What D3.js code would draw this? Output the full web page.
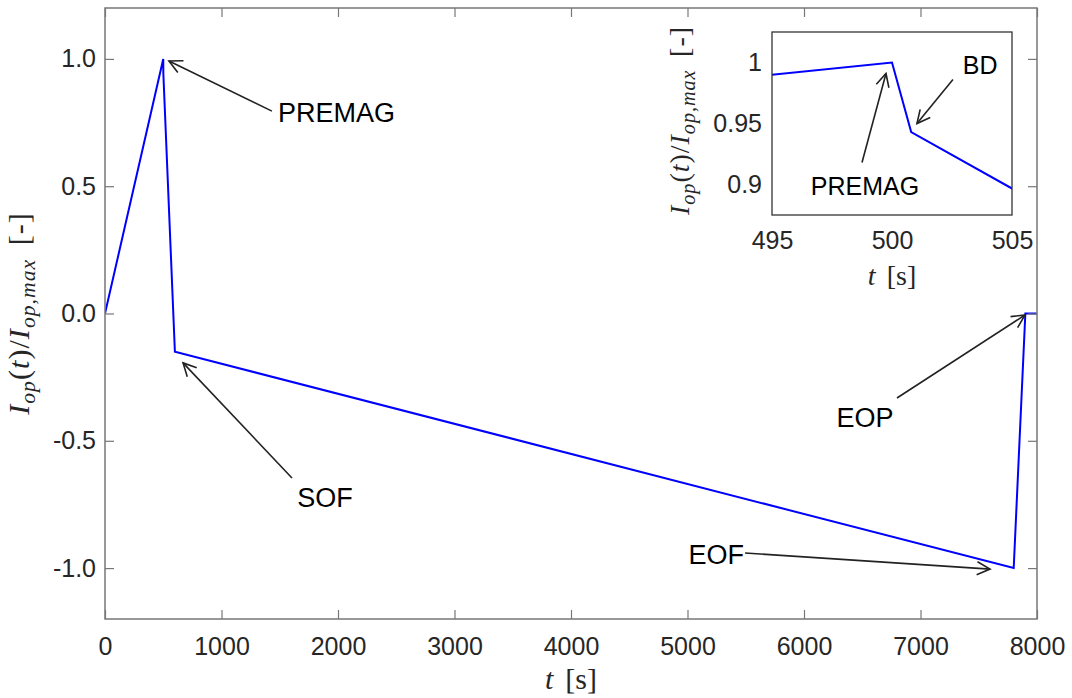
<!DOCTYPE html>
<html>
<head>
<meta charset="utf-8">
<script src="https://cdn.jsdelivr.net/npm/d3@7"></script>
<style>
  body { margin: 0; background: #fff; }
  svg { display: block; }
</style>
</head>
<body>
<div id="chart"></div>
<script>
// operating current profile, normalised
const timeValues = [0, 500, 500.8, 600, 7800, 7900, 8000];
const currentValues = [0, 1.0, 0.943, -0.15, -1.0, 0.0, 0.0];

const xTicks = [0, 1000, 2000, 3000, 4000, 5000, 6000, 7000, 8000];
const yTicks = [-1.0, -0.5, 0.0, 0.5, 1.0];
const insetXTicks = [495, 500, 505];
const insetYTicks = [0.9, 0.95, 1];

// annotations in data units: text position, arrow tail, arrow tip
const mainNotes = [
  {label: "PREMAG", text: [1485, 0.79], anchor: "start", tail: [1433, 0.795], tip: [549, 0.992]},
  {label: "SOF", text: [1888, -0.72], anchor: "middle", tail: [1605, -0.646], tip: [670, -0.194]},
  {label: "EOF", text: [5485, -0.945], anchor: "end", tail: [5494, -0.941], tip: [7597, -1.004]},
  {label: "EOP", text: [6524, -0.407], anchor: "middle", tail: [6798, -0.332], tip: [7897, -0.006]}
];
const insetNotes = [
  {label: "PREMAG", text: [498.875, 0.899], anchor: "middle", tail: [498.75, 0.918], tip: [499.75, 0.991]},
  {label: "BD", text: [503.67, 0.998], anchor: "middle", tail: [502.54, 0.986], tip: [501.04, 0.950]}
];

const W = 1072, H = 698;
const margin = {top: 8, right: 35, bottom: 79, left: 105};
const width = W - margin.left - margin.right,
      height = H - margin.top - margin.bottom;

const svg = d3.select("#chart").append("svg")
    .attr("width", W).attr("height", H);

svg.append("rect").attr("width", W).attr("height", H).attr("fill", "#fff");

// Arrow head (open chevron)
svg.append("defs").append("marker")
    .attr("id", "arrow")
    .attr("viewBox", "-14 -8 16 16")
    .attr("refX", 0).attr("refY", 0)
    .attr("markerWidth", 16).attr("markerHeight", 16)
    .attr("markerUnits", "userSpaceOnUse")
    .attr("orient", "auto")
    .append("path")
    .attr("d", "M-13,-6.5L0,0L-13,6.5")
    .attr("fill", "none")
    .attr("stroke", "#222")
    .attr("stroke-width", 1.6);

const tickFont = "'Liberation Sans', Arial, sans-serif";
const mathFont = "'Liberation Serif', 'Times New Roman', serif";
const pairs = timeValues.map((t, i) => ({t: t, v: currentValues[i]}));

function drawAxes(g, x, y, w, h, opts) {
  const ax = g.append("g");
  ax.append("g")
    .attr("transform", `translate(0,${h})`)
    .call(d3.axisBottom(x).tickValues(opts.xTicks).tickFormat(opts.xFormat)
      .tickSizeInner(-opts.tick).tickSizeOuter(0).tickPadding(opts.xPad));
  ax.append("g")
    .call(d3.axisLeft(y).tickValues(opts.yTicks).tickFormat(opts.yFormat)
      .tickSizeInner(-opts.tick).tickSizeOuter(0).tickPadding(opts.yPad));
  if (opts.tick > 0) {
    ax.append("g")
      .call(d3.axisTop(x).tickValues(opts.xTicks).tickFormat("")
        .tickSizeInner(-opts.tick).tickSizeOuter(0));
    ax.append("g")
      .attr("transform", `translate(${w},0)`)
      .call(d3.axisRight(y).tickValues(opts.yTicks).tickFormat("")
        .tickSizeInner(-opts.tick).tickSizeOuter(0));
  }
  ax.selectAll(".domain").remove();
  ax.selectAll(".tick line").attr("stroke", opts.stroke).attr("stroke-width", 1.2);
  ax.selectAll(".tick text")
    .attr("font-family", tickFont)
    .attr("font-size", opts.fontSize)
    .attr("fill", "#262626");
  g.append("rect")
    .attr("width", w).attr("height", h)
    .attr("fill", "none")
    .attr("stroke", opts.stroke)
    .attr("stroke-width", opts.boxWidth);
}

function yLabel(g, cx, cy, size) {
  const t = g.append("text")
    .attr("transform", `translate(${cx},${cy}) rotate(-90)`)
    .attr("text-anchor", "middle")
    .attr("font-family", mathFont)
    .attr("font-size", size)
    .attr("letter-spacing", size * 0.035)
    .attr("fill", "#262626");
  const sub = size * 0.72, shift = size * 0.2;
  t.append("tspan").attr("font-style", "italic").text("I");
  t.append("tspan").attr("font-style", "italic").attr("font-size", sub).attr("dy", shift).text("op");
  t.append("tspan").attr("dy", -shift).text("(");
  t.append("tspan").attr("font-style", "italic").text("t");
  t.append("tspan").text(")/");
  t.append("tspan").attr("font-style", "italic").text("I");
  t.append("tspan").attr("font-style", "italic").attr("font-size", sub).attr("dy", shift).text("op,max");
  t.append("tspan").attr("dy", -shift).attr("dx", size * 0.45).text("[-]");
}

function xLabel(g, cx, cy, size) {
  const t = g.append("text")
    .attr("x", cx).attr("y", cy)
    .attr("text-anchor", "middle")
    .attr("font-family", mathFont)
    .attr("font-size", size)
    .attr("fill", "#262626");
  t.append("tspan").attr("font-style", "italic").text("t");
  t.append("tspan").attr("dx", size * 0.4).text("[s]");
}

function drawNotes(g, x, y, notes, size) {
  notes.forEach(n => {
    g.append("line")
      .attr("x1", x(n.tail[0])).attr("y1", y(n.tail[1]))
      .attr("x2", x(n.tip[0])).attr("y2", y(n.tip[1]))
      .attr("stroke", "#222").attr("stroke-width", 1.6)
      .attr("marker-end", "url(#arrow)");
    g.append("text")
      .attr("x", x(n.text[0])).attr("y", y(n.text[1]))
      .attr("dy", "0.36em")
      .attr("text-anchor", n.anchor)
      .attr("font-family", tickFont)
      .attr("font-size", size)
      .attr("fill", "#000")
      .text(n.label);
  });
}

// ---- main axes ----
const main = svg.append("g").attr("transform", `translate(${margin.left},${margin.top})`);
const x = d3.scaleLinear().domain([0, 8000]).range([0, width]);
const y = d3.scaleLinear().domain([-1.2, 1.2]).range([height, 0]);

main.append("clipPath").attr("id", "clipMain")
  .append("rect").attr("width", width).attr("height", height);

const line = d3.line().x(d => x(d.t)).y(d => y(d.v));
main.append("path")
  .datum(pairs)
  .attr("clip-path", "url(#clipMain)")
  .attr("d", line)
  .attr("fill", "none")
  .attr("stroke", "#0000ff")
  .attr("stroke-width", 2);

drawAxes(main, x, y, width, height, {
  xTicks: xTicks, yTicks: yTicks,
  xFormat: d => String(d), yFormat: d => d.toFixed(1),
  tick: 9, xPad: 18, yPad: 9, fontSize: 25,
  stroke: "#777", boxWidth: 1.5
});
xLabel(main, width / 2, height + 70, 30);
yLabel(main, -76, height / 2, 30);
drawNotes(main, x, y, mainNotes, 27);

// ---- inset axes ----
const inset = {left: 772, top: 32, width: 240, height: 183};
const ig = svg.append("g").attr("transform", `translate(${inset.left},${inset.top})`);
const xi = d3.scaleLinear().domain([495, 505]).range([0, inset.width]);
const yi = d3.scaleLinear().domain([0.875, 1.025]).range([inset.height, 0]);

ig.append("rect").attr("width", inset.width).attr("height", inset.height).attr("fill", "#fff");
ig.append("clipPath").attr("id", "clipInset")
  .append("rect").attr("width", inset.width).attr("height", inset.height);

const insetLine = d3.line().x(d => xi(d.t)).y(d => yi(d.v));
ig.append("path")
  .datum(pairs)
  .attr("clip-path", "url(#clipInset)")
  .attr("d", insetLine)
  .attr("fill", "none")
  .attr("stroke", "#0000ff")
  .attr("stroke-width", 2);

drawAxes(ig, xi, yi, inset.width, inset.height, {
  xTicks: insetXTicks, yTicks: insetYTicks,
  xFormat: d => String(d), yFormat: d => String(d),
  tick: 0, xPad: 16, yPad: 10, fontSize: 25,
  stroke: "#333", boxWidth: 1.3
});
xLabel(ig, inset.width / 2, inset.height + 70, 28);
yLabel(ig, -83, inset.height / 2 - 3, 28);
drawNotes(ig, xi, yi, insetNotes, 25);
</script>
</body>
</html>
